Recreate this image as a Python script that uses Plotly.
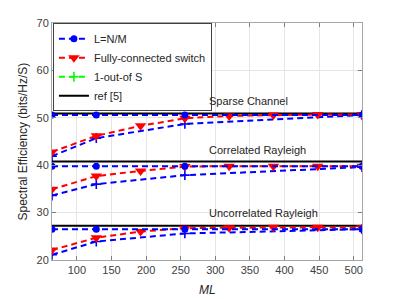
import plotly.graph_objects as go

ml_full = [64, 128, 192, 256, 320, 384, 448, 512]
ml_sparse = [64, 128, 256, 512]

# Sparse channel
sp_lnm = [50.6, 50.6, 50.6, 50.6]
sp_fc = [42.8, 46.2, 48.3, 49.9, 50.4, 50.6, 50.7, 50.7]
sp_one = [41.9, 45.7, 48.7, 50.6]
sp_ref = [50.9] * 8

# Correlated Rayleigh
cr_lnm = [39.8, 39.8, 39.8, 39.8]
cr_fc = [34.9, 37.7, 38.8, 39.7, 39.8, 39.8, 39.8, 39.8]
cr_one = [33.6, 36.0, 37.9, 39.6]
cr_ref = [40.8] * 8

# Uncorrelated Rayleigh
ur_lnm = [26.5, 26.5, 26.5, 26.5]
ur_fc = [22.1, 24.7, 26.0, 26.7, 26.8, 26.9, 26.9, 26.8]
ur_one = [21.1, 23.9, 25.6, 26.5]
ur_ref = [27.2] * 8

group_labels = ["Sparse Channel", "Correlated Rayleigh", "Uncorrelated Rayleigh"]
label_y = [53.6, 43.2, 29.9]
label_x = 288

x_ticks = [100, 150, 200, 250, 300, 350, 400, 450, 500]
y_ticks = [20, 30, 40, 50, 60, 70]

BLUE = "#0000ff"
RED = "#ff0000"
GREEN = "#00ff00"
DASH = "6px,4px"

fig = go.Figure()

groups = [
    (sp_lnm, sp_fc, sp_one, sp_ref),
    (cr_lnm, cr_fc, cr_one, cr_ref),
    (ur_lnm, ur_fc, ur_one, ur_ref),
]

for gi, (lnm, fc, one, ref) in enumerate(groups):
    first = gi == 0
    fig.add_trace(go.Scatter(
        x=ml_full, y=ref, mode="lines", name="ref [5]",
        line=dict(color="black", width=2), showlegend=False, legendrank=4))
    fig.add_trace(go.Scatter(
        x=ml_sparse, y=one, mode="lines+markers", name="1-out-of S",
        line=dict(color=BLUE, width=2, dash=DASH),
        marker=dict(symbol="cross-thin", size=7, line=dict(color=BLUE, width=1.6)),
        showlegend=False))
    fig.add_trace(go.Scatter(
        x=ml_full, y=fc, mode="lines+markers", name="Fully-connected switch",
        line=dict(color=RED, width=2, dash=DASH),
        marker=dict(symbol="triangle-down", size=10, color=RED),
        showlegend=first, legendrank=2))
    fig.add_trace(go.Scatter(
        x=ml_sparse, y=lnm, mode="lines+markers", name="L=N/M",
        line=dict(color=BLUE, width=2, dash=DASH),
        marker=dict(symbol="circle", size=7, color=BLUE),
        showlegend=first, legendrank=1))

# legend entries for 1-out-of S and ref
fig.add_trace(go.Scatter(
    x=[None], y=[None], mode="lines+markers", name="1-out-of S",
    line=dict(color=GREEN, width=2, dash=DASH),
    marker=dict(symbol="cross-thin", size=7, line=dict(color=GREEN, width=1.6)),
    legendrank=3))
fig.add_trace(go.Scatter(
    x=[None], y=[None], mode="lines", name="ref [5]",
    line=dict(color="black", width=2), legendrank=4))

for txt, yy in zip(group_labels, label_y):
    fig.add_annotation(x=label_x, y=yy, text=txt, showarrow=False,
                       xanchor="left", yanchor="middle",
                       font=dict(size=11, color="#262626"))

# axis titles
fig.add_annotation(xref="paper", yref="paper", x=0, y=0.5, xshift=-30,
                   text="Spectral Efficiency (bits/Hz/S)", textangle=-90,
                   showarrow=False, xanchor="center", yanchor="middle",
                   font=dict(size=12, color="#262626"))
fig.add_annotation(xref="paper", yref="paper", x=0.5, y=0, yshift=-30,
                   text="<i>ML</i>", showarrow=False,
                   xanchor="center", yanchor="middle",
                   font=dict(size=12, color="#262626"))

axis_common = dict(
    showgrid=True, gridcolor="#e5e5e5", gridwidth=1,
    showline=True, linecolor="#a6a6a6", linewidth=1, mirror="ticks",
    ticks="inside", ticklen=4, tickcolor="#808080",
    tickfont=dict(size=11, color="#404040", family="Liberation Sans, Arial"),
    zeroline=False,
)

fig.update_xaxes(range=[64, 512], tickvals=x_ticks, **axis_common)
fig.update_yaxes(range=[20, 70], tickvals=y_ticks, **axis_common)

fig.update_layout(
    width=399, height=299,
    margin=dict(l=52, r=37, t=23, b=39, autoexpand=False),
    plot_bgcolor="white", paper_bgcolor="white",
    font=dict(family="Liberation Sans, Arial", color="#262626"),
    legend=dict(x=0.003, y=0.999, xanchor="left", yanchor="top",
                bgcolor="white", bordercolor="#404040", borderwidth=1,
                font=dict(size=11, color="#262626"),
                tracegroupgap=0, itemwidth=30),
)

fig.write_html("out.html", config={"displayModeBar": False},
               post_script="document.body.style.margin='0';document.body.style.padding='0';document.body.style.overflow='hidden';")
